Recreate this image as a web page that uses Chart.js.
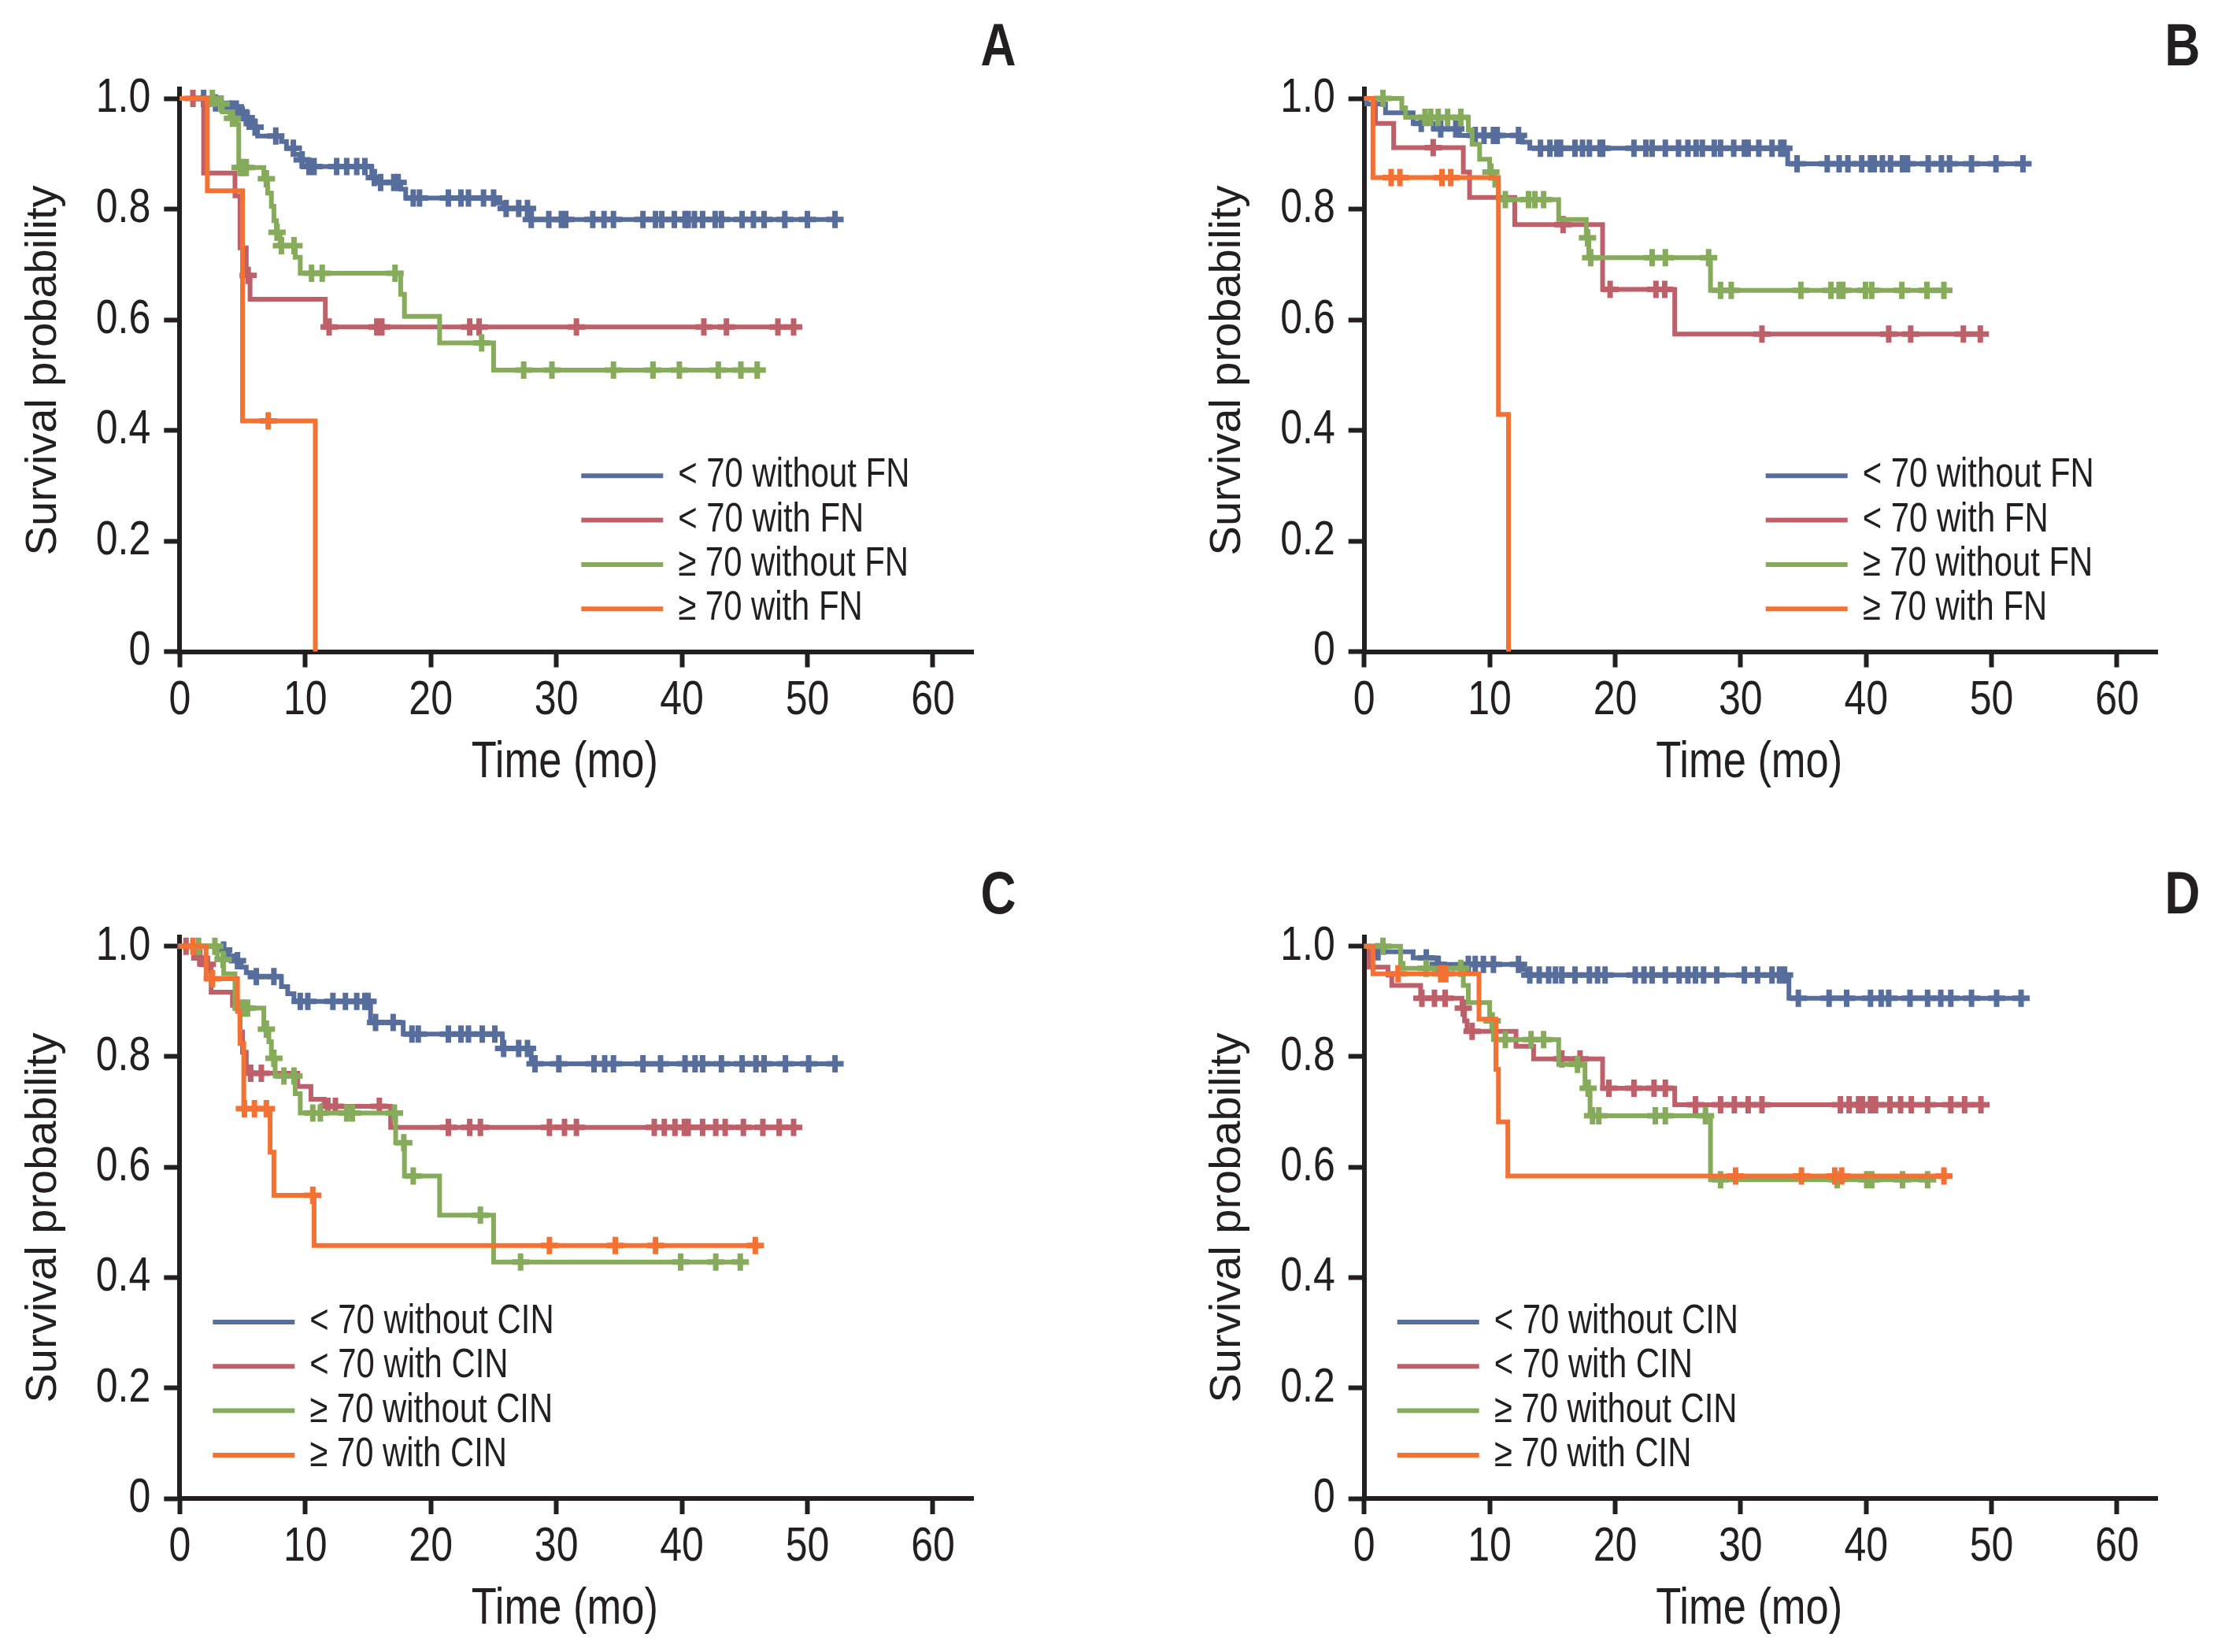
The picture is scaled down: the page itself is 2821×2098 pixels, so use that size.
<!DOCTYPE html>
<html><head><meta charset="utf-8">
<script src="https://cdn.jsdelivr.net/npm/chart.js@4.4.1/dist/chart.umd.min.js"></script>
<style>
html,body{margin:0;padding:0;background:#fff;width:2821px;height:2098px;overflow:hidden;}
canvas{position:absolute;}
</style></head><body>
<canvas id="cA" width="1410" height="1049" style="left:0;top:0"></canvas>
<canvas id="cB" width="1411" height="1049" style="left:1410px;top:0"></canvas>
<canvas id="cC" width="1410" height="1049" style="left:0;top:1076px"></canvas>
<canvas id="cD" width="1411" height="1049" style="left:1410px;top:1076px"></canvas>
<script>
// ---------------- DATA ----------------
const xTickValues = [0, 10, 20, 30, 40, 50, 60];
const yTickValues = [0, 0.2, 0.4, 0.6, 0.8, 1.0];
const yTickLabels = ['0', '0.2', '0.4', '0.6', '0.8', '1.0'];
const xTitle = 'Time (mo)';
const yTitle = 'Survival probability';
const panelLetters = ['A', 'B', 'C', 'D'];
const labelsFN = ['< 70 without FN', '< 70 with FN', '\u2265 70 without FN', '\u2265 70 with FN'];
const labelsCIN = ['< 70 without CIN', '< 70 with CIN', '\u2265 70 without CIN', '\u2265 70 with CIN'];

// Panel A (FN) — step points [time, survival] and censor times
const A_lt70_noFN_steps = [[0,1],[2.7,0.992],[4.0,0.981],[4.6,0.974],[5.1,0.965],[5.45,0.957],[5.8,0.948],[6.2,0.932],[8.1,0.922],[8.5,0.910],[9.1,0.899],[9.6,0.889],[10.2,0.877],[15.3,0.857],[15.8,0.848],[17.6,0.836],[18.0,0.820],[25.3,0.811],[25.8,0.801],[27.85,0.781]];
const A_lt70_noFN_cens = [1.9,2.85,4.1,4.5,4.9,5.3,6.0,7.65,9.05,9.75,10.3,10.7,12.5,13.3,14.1,14.75,15.5,16.0,17.05,17.4,18.6,19.1,21.4,22.4,23.0,24.2,25.0,26.0,27.0,27.7,28.0,29.4,30.4,30.75,32.9,33.8,34.55,36.9,37.9,38.4,39.4,40.25,40.5,41.0,41.65,42.65,43.15,44.8,45.7,46.55,48.2,50.0,52.2];
const A_lt70_FN_steps = [[0,1],[1.9,0.865],[4.4,0.824],[4.8,0.73],[5.3,0.68],[5.6,0.637],[11.6,0.587]];
const A_lt70_FN_cens = [1.05,5.45,11.9,15.7,16.1,23.1,23.85,31.6,41.75,43.55,47.65,48.9];
const A_ge70_noFN_steps = [[0,1],[2.8,0.990],[3.4,0.976],[4.0,0.964],[4.5,0.953],[4.7,0.875],[6.7,0.855],[7.0,0.829],[7.3,0.805],[7.5,0.779],[7.7,0.758],[8.0,0.734],[9.2,0.713],[9.6,0.684],[17.6,0.646],[17.9,0.606],[20.7,0.558],[25.0,0.509]];
const A_ge70_noFN_cens = [2.6,3.3,4.2,4.8,5.0,5.3,6.9,7.75,8.1,9.1,10.5,11.35,17.15,24.05,27.4,29.65,34.55,37.7,39.8,42.9,44.7,46.0];
const A_ge70_FN_steps = [[0,1],[2.2,0.833],[5.0,0.417],[10.8,0]];
const A_ge70_FN_cens = [7.05];

// Panel B (FN)
const B_lt70_noFN_steps = [[0,1],[0.2,0.990],[1.7,0.974],[3.9,0.955],[5.5,0.945],[7.6,0.933],[12.6,0.921],[13.2,0.910],[33.75,0.882]];
const B_lt70_noFN_cens = [4.55,6.1,7.3,8.85,9.55,10.3,10.6,12.3,14.05,14.8,15.35,15.65,16.8,17.4,17.95,18.8,19.0,21.5,22.45,22.95,24.0,25.05,25.8,26.45,26.95,27.9,28.4,29.45,30.3,30.6,31.45,32.5,33.2,33.45,34.5,36.9,37.85,38.55,39.65,40.35,40.65,41.3,41.95,42.9,43.3,44.95,46.0,46.65,48.4,50.35,52.5];
const B_lt70_FN_steps = [[0,1],[0.9,0.955],[2.35,0.911],[7.9,0.867],[8.4,0.821],[12.0,0.772],[19.0,0.655],[24.75,0.574]];
const B_lt70_FN_cens = [5.5,15.85,19.6,23.25,23.95,31.7,41.8,43.55,47.75,49.1];
const B_ge70_noFN_steps = [[0,1],[3.0,0.983],[3.3,0.966],[8.3,0.943],[8.6,0.917],[9.2,0.890],[10.0,0.867],[10.4,0.843],[10.7,0.817],[15.5,0.781],[17.7,0.748],[17.9,0.712],[27.6,0.653]];
const B_ge70_noFN_cens = [1.5,4.85,5.3,5.9,6.65,7.7,10.1,11.25,13.1,13.6,14.3,17.8,18.05,22.95,24.0,27.45,28.4,29.25,34.8,37.2,37.85,38.15,39.95,40.45,42.85,44.85,46.2];
const B_ge70_FN_steps = [[0,1],[0.7,0.857],[10.7,0.429],[11.5,0]];
const B_ge70_FN_cens = [2.15,2.85,6.2,6.9];

// Panel C (CIN)
const C_lt70_noCIN_steps = [[0,1],[3.1,0.993],[3.9,0.983],[4.5,0.974],[4.9,0.962],[5.3,0.952],[6.0,0.945],[8.1,0.927],[8.6,0.914],[9.1,0.900],[15.2,0.862],[17.8,0.841],[25.7,0.815],[28.0,0.787]];
const C_lt70_noCIN_cens = [3.5,4.6,6.1,7.5,9.6,10.2,12.2,13.2,14.1,14.75,15.0,15.6,17.0,18.5,19.0,21.4,22.4,23.0,24.1,25.1,25.8,27.0,27.7,28.3,30.2,33.0,33.85,34.55,36.9,38.3,40.25,41.05,41.65,43.15,44.8,45.9,46.55,48.25,50.1,52.2];
const C_lt70_CIN_steps = [[0,1],[1.25,0.979],[1.9,0.967],[2.5,0.917],[4.2,0.893],[4.8,0.845],[5.0,0.808],[5.3,0.770],[9.4,0.746],[10.45,0.723],[11.5,0.710],[16.8,0.672]];
const C_lt70_CIN_cens = [0.5,1.6,2.2,5.65,6.5,11.8,12.4,15.9,21.4,23.1,23.95,29.45,30.65,31.6,37.8,38.6,39.45,40.2,40.5,41.65,42.7,43.45,44.9,46.45,47.75,48.9];
const C_ge70_noCIN_steps = [[0,1],[3.0,0.976],[3.5,0.950],[4.4,0.888],[6.7,0.850],[7.1,0.827],[7.3,0.797],[7.6,0.765],[9.2,0.733],[9.6,0.698],[17.2,0.644],[17.9,0.584],[20.7,0.513],[25.0,0.428]];
const C_ge70_noCIN_cens = [1.5,2.8,3.45,4.9,5.1,5.4,6.9,7.5,8.3,9.1,10.6,11.2,13.3,13.75,17.1,17.85,18.6,23.95,27.15,39.9,42.7,44.65];
const C_ge70_CIN_steps = [[0,1],[2.1,0.941],[4.6,0.882],[4.8,0.824],[5.1,0.706],[7.2,0.627],[7.5,0.549],[10.7,0.458]];
const C_ge70_CIN_cens = [1.05,2.6,5.15,5.95,6.9,10.6,29.45,34.7,37.9,45.85];

// Panel D (CIN)
const D_lt70_noCIN_steps = [[0,1],[0.8,0.990],[3.9,0.979],[5.8,0.967],[12.6,0.958],[13.0,0.948],[33.85,0.906]];
const D_lt70_noCIN_cens = [1.1,4.95,5.9,8.3,8.85,9.5,10.3,12.3,13.2,13.95,14.7,15.25,15.75,16.8,17.95,18.6,19.2,21.6,22.3,22.95,24.0,25.1,25.8,26.4,27.05,28.1,30.3,31.35,32.5,33.1,33.5,34.6,37.05,38.45,40.35,41.2,41.8,43.5,44.9,45.95,46.75,48.4,50.4,52.35];
const D_lt70_CIN_steps = [[0,1],[0.4,0.962],[1.9,0.948],[2.2,0.929],[4.5,0.906],[7.8,0.888],[8.0,0.865],[8.2,0.846],[12.1,0.819],[13.5,0.796],[19.0,0.743],[24.75,0.713]];
const D_lt70_CIN_cens = [4.6,5.6,6.45,7.9,8.6,15.75,17.2,19.5,21.5,23.1,24.0,26.4,28.4,29.5,30.6,31.7,37.95,38.65,39.4,39.7,40.35,40.75,41.9,42.75,43.6,44.9,46.75,47.85,49.15];
const D_ge70_noCIN_steps = [[0,1],[2.9,0.969],[3.1,0.960],[7.9,0.929],[8.3,0.898],[10.0,0.865],[10.3,0.831],[15.5,0.786],[17.6,0.743],[18.0,0.693],[27.6,0.577]];
const D_ge70_noCIN_cens = [1.5,4.95,7.7,10.2,11.25,13.3,14.3,17.0,17.85,18.2,18.7,23.2,24.0,27.2,28.4,37.7,40.05,40.45,42.9,44.9];
const D_ge70_CIN_steps = [[0,1],[0.7,0.950],[9.15,0.868],[10.5,0.777],[10.7,0.682],[11.45,0.584]];
const D_ge70_CIN_cens = [2.7,6.1,6.5,29.6,34.85,37.5,38.05,46.2];

// ---------------- STYLE ----------------
const COLORS = ['#576E9C', '#BD6069', '#86AB5B', '#F37133'];
const INK = '#231F20';
// Condensed face: Liberation Sans drawn with a horizontal squeeze (no narrow font is installed)
const COND = "'Liberation Sans', sans-serif";
const REG = "Arial, 'Liberation Sans', sans-serif";
const SQUEEZE = 0.82;
(function () {
  const P = CanvasRenderingContext2D.prototype;
  const origFill = P.fillText;
  const origMeasure = P.measureText;
  const isCond = c => c.font.indexOf('Arial') < 0 && c.font.indexOf('Liberation Sans') >= 0;
  P.fillText = function (text, x, y, maxWidth) {
    if (isCond(this)) {
      this.save(); this.translate(x, y); this.scale(SQUEEZE, 1);
      if (maxWidth !== undefined) origFill.call(this, text, 0, 0, maxWidth / SQUEEZE);
      else origFill.call(this, text, 0, 0);
      this.restore();
    } else if (maxWidth !== undefined) origFill.call(this, text, x, y, maxWidth);
    else origFill.call(this, text, x, y);
  };
  P.measureText = function (text) {
    const m = origMeasure.call(this, text);
    if (!isCond(this)) return m;
    return { width: m.width * SQUEEZE, actualBoundingBoxAscent: m.actualBoundingBoxAscent,
             actualBoundingBoxDescent: m.actualBoundingBoxDescent,
             actualBoundingBoxLeft: m.actualBoundingBoxLeft * SQUEEZE, actualBoundingBoxRight: m.actualBoundingBoxRight * SQUEEZE };
  };
})();

function survAt(steps, t) {
  let s = steps[0][1];
  for (const [x, y] of steps) { if (x <= t) s = y; }
  return s;
}

function buildDatasets(seriesList) {
  const ds = [];
  seriesList.forEach((ser, i) => {
    const pts = ser.steps.map(([x, y]) => ({x, y}));
    const lastStep = ser.steps[ser.steps.length - 1];
    const endT = Math.max(lastStep[0], ...ser.cens);
    if (endT > lastStep[0]) pts.push({x: endT, y: lastStep[1]});
    const order = 3 - i; // orange on top
    ds.push({
      data: pts, showLine: true, stepped: true, borderColor: COLORS[i], borderWidth: 6,
      borderJoinStyle: 'miter', borderCapStyle: 'butt', pointRadius: 0, pointHoverRadius: 0,
      fill: false, clip: false, order: order
    });
    ds.push({
      data: ser.cens.map(t => ({x: t, y: survAt(ser.steps, t)})), showLine: false,
      pointStyle: 'cross', pointRadius: 11, pointHoverRadius: 11, pointBorderWidth: 7,
      pointBorderColor: COLORS[i], pointBackgroundColor: COLORS[i], clip: false, order: order
    });
  });
  return ds;
}

const overlayPlugin = {
  id: 'overlay',
  afterDraw(chart, args, opts) {
    const {ctx, chartArea: ca} = chart;
    ctx.save();
    opts.labels.forEach((lab, i) => {
      const y = ca.top + opts.legendY + i * 56.3;
      ctx.strokeStyle = COLORS[i]; ctx.lineWidth = 6; ctx.lineCap = 'butt';
      ctx.beginPath(); ctx.moveTo(ca.left + opts.legendX0, y); ctx.lineTo(ca.left + opts.legendX0 + 104, y); ctx.stroke();
      ctx.fillStyle = INK; ctx.font = '51px ' + COND; ctx.textBaseline = 'middle'; ctx.textAlign = 'left';
      ctx.fillText(lab, ca.left + opts.legendX0 + 123, y);
    });
    // x-axis title
    ctx.fillStyle = INK; ctx.font = '64px ' + COND; ctx.textAlign = 'center'; ctx.textBaseline = 'middle';
    ctx.fillText(xTitle, ca.left + 489, ca.bottom + 141.5);
    // panel letter
    ctx.font = 'bold 76px ' + COND;
    ctx.fillText(opts.letter, ca.right + 32, ca.top - 51);
    ctx.restore();
  }
};

function makeChart(id, geo, seriesList, labels, letter, legendX0, legendY) {
  new Chart(document.getElementById(id), {
    type: 'scatter',
    data: { datasets: buildDatasets(seriesList) },
    plugins: [overlayPlugin],
    options: {
      responsive: false, animation: false, devicePixelRatio: 1, events: [],
      layout: { padding: { left: geo.padL, top: geo.padT, right: geo.padR, bottom: 0 } },
      plugins: {
        legend: { display: false }, tooltip: { enabled: false },
        overlay: { labels: labels, letter: letter, legendX0: legendX0, legendY: legendY }
      },
      scales: {
        x: {
          type: 'linear', min: 0, max: 63.2,
          afterBuildTicks: s => { s.ticks = xTickValues.map(v => ({value: v})); },
          afterFit: s => { s.height = geo.xH; },
          grid: { display: true, drawOnChartArea: false, drawTicks: true, tickLength: 20, tickWidth: 6, tickColor: INK },
          border: { display: true, color: INK, width: 6 },
          ticks: { color: INK, font: { family: COND, size: 61 }, padding: 6, maxRotation: 0, autoSkip: false,
                   callback: v => String(v) },
          title: { display: false }
        },
        y: {
          type: 'linear', min: 0, max: 1.0167,
          afterBuildTicks: s => { s.ticks = yTickValues.map(v => ({value: v})); },
          afterFit: s => { s.width = 228.3; },
          grid: { display: true, drawOnChartArea: false, drawTicks: true, tickLength: 20, tickWidth: 6, tickColor: INK },
          border: { display: true, color: INK, width: 6 },
          ticks: { color: INK, font: { family: COND, size: 61 }, padding: 17, autoSkip: false,
                   callback: v => yTickLabels[yTickValues.findIndex(t => Math.abs(t - v) < 1e-6)] },
          title: { display: true, text: yTitle, color: INK, font: { family: REG, size: 56 }, padding: { top: 22, bottom: 0 } }
        }
      }
    }
  });
}

const geoA = { padL: 0, padT: 113.3, padR: 174, xH: 221.5 };
const geoB = { padL: 94.4, padT: 113.3, padR: 81, xH: 221.5 };
const geoC = { padL: 0, padT: 114, padR: 174, xH: 222 };
const geoD = { padL: 94.4, padT: 114, padR: 81, xH: 222 };

makeChart('cA', geoA, [
  {steps: A_lt70_noFN_steps, cens: A_lt70_noFN_cens},
  {steps: A_lt70_FN_steps, cens: A_lt70_FN_cens},
  {steps: A_ge70_noFN_steps, cens: A_ge70_noFN_cens},
  {steps: A_ge70_FN_steps, cens: A_ge70_FN_cens}
], labelsFN, panelLetters[0], 510, 491);
makeChart('cB', geoB, [
  {steps: B_lt70_noFN_steps, cens: B_lt70_noFN_cens},
  {steps: B_lt70_FN_steps, cens: B_lt70_FN_cens},
  {steps: B_ge70_noFN_steps, cens: B_ge70_noFN_cens},
  {steps: B_ge70_FN_steps, cens: B_ge70_FN_cens}
], labelsFN, panelLetters[1], 510, 491);
makeChart('cC', geoC, [
  {steps: C_lt70_noCIN_steps, cens: C_lt70_noCIN_cens},
  {steps: C_lt70_CIN_steps, cens: C_lt70_CIN_cens},
  {steps: C_ge70_noCIN_steps, cens: C_ge70_noCIN_cens},
  {steps: C_ge70_CIN_steps, cens: C_ge70_CIN_cens}
], labelsCIN, panelLetters[2], 42, 489);
makeChart('cD', geoD, [
  {steps: D_lt70_noCIN_steps, cens: D_lt70_noCIN_cens},
  {steps: D_lt70_CIN_steps, cens: D_lt70_CIN_cens},
  {steps: D_ge70_noCIN_steps, cens: D_ge70_noCIN_cens},
  {steps: D_ge70_CIN_steps, cens: D_ge70_CIN_cens}
], labelsCIN, panelLetters[3], 42, 489);
</script>
</body></html>
